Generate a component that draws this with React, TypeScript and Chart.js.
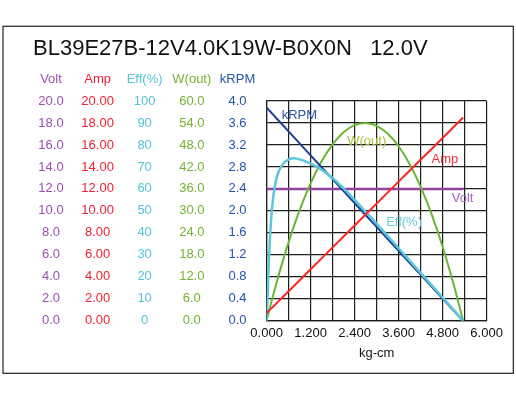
import React, { useEffect, useRef } from "react";
import { Chart, registerables } from "chart.js";

Chart.register(...registerables);

// ---- data ----
const chartTitle = "BL39E27B-12V4.0K19W-B0X0N   12.0V";
const xAxisTitle = "kg-cm";

const torque = [0, 0.04, 0.08, 0.13, 0.19, 0.28, 0.42, 0.6, 0.75, 0.95, 1.2, 1.5, 1.8, 2.1, 2.4, 2.7, 3.0, 3.3, 3.6, 3.9, 4.2, 4.5, 4.8, 5.1, 5.36];
const volt = [12, 12, 12, 12, 12, 12, 12, 12, 12, 12, 12, 12, 12, 12, 12, 12, 12, 12, 12, 12, 12, 12, 12, 12, 12];
const amp = [0.7, 0.83, 0.97, 1.13, 1.33, 1.63, 2.09, 2.69, 3.19, 3.85, 4.69, 5.68, 6.68, 7.67, 8.67, 9.67, 10.66, 11.66, 12.66, 13.65, 14.65, 15.64, 16.64, 17.64, 18.5];
const eff = [0, 17, 34, 47.5, 57.5, 65.5, 70.8, 73.4, 73.9, 73.2, 71.5, 68.8, 65.0, 60.2, 55.0, 49.6, 44.2, 38.6, 33.0, 27.4, 21.8, 16.2, 10.6, 5.0, 0];
const wOut = [0, 1.6, 3.18, 5.11, 7.39, 10.69, 15.6, 21.47, 26.0, 31.5, 37.53, 43.53, 48.18, 51.47, 53.41, 54.0, 53.23, 51.11, 47.64, 42.81, 36.63, 29.1, 20.21, 9.97, 0];
const kRpm = [3.88, 3.851, 3.822, 3.786, 3.742, 3.677, 3.576, 3.446, 3.337, 3.192, 3.011, 2.794, 2.577, 2.36, 2.143, 1.926, 1.708, 1.491, 1.274, 1.057, 0.84, 0.623, 0.405, 0.188, 0];

// tick labels, bottom to top
const voltTicks = ["0.0", "2.0", "4.0", "6.0", "8.0", "10.0", "12.0", "14.0", "16.0", "18.0", "20.0"];
const ampTicks = ["0.00", "2.00", "4.00", "6.00", "8.00", "10.00", "12.00", "14.00", "16.00", "18.00", "20.00"];
const effTicks = ["0", "10", "20", "30", "40", "50", "60", "70", "80", "90", "100"];
const wTicks = ["0.0", "6.0", "12.0", "18.0", "24.0", "30.0", "36.0", "42.0", "48.0", "54.0", "60.0"];
const rpmTicks = ["0.0", "0.4", "0.8", "1.2", "1.6", "2.0", "2.4", "2.8", "3.2", "3.6", "4.0"];
const xTicks = ["0.000", "1.200", "2.400", "3.600", "4.800", "6.000"];

// series names (column headers)
const seriesNames = ["Volt", "Amp", "Eff(%)", "W(out)", "kRPM"];

// in-plot curve labels, anchored in data units
const curveLabels = [
  { text: "kRPM", x: 0.41, y: 3.73, axis: "yRpm", color: "#2f55a6" },
  { text: "W(out)", x: 2.2, y: 49.0, axis: "yW", color: "#a6c23c" },
  { text: "Amp", x: 4.5, y: 14.7, axis: "yAmp", color: "#f0303f" },
  { text: "Volt", x: 5.05, y: 11.1, axis: "yVolt", color: "#a062b6" },
  { text: "Eff(%)", x: 3.26, y: 44.6, axis: "yEff", color: "#66ccdd" },
];

const FONT = "'Liberation Sans', Arial, sans-serif";
const GRID = "#1e1e1e";

const colors = {
  volt: "#9b4fae",
  amp: "#ee2233",
  eff: "#55c4d8",
  w: "#76b232",
  rpm: "#2453a8",
};

const pts = (ys: number[]) => torque.map((t, i) => ({ x: t, y: ys[i] }));

export default function App() {
  const ref = useRef<HTMLCanvasElement | null>(null);

  useEffect(() => {
    if (!ref.current) return;

    const frame = {
      id: "frame",
      beforeDraw(chart: any) {
        const c = chart.ctx;
        c.save();
        c.strokeStyle = "#222";
        c.lineWidth = 1.2;
        c.strokeRect(3, 26.3, 510.3, 347);
        c.restore();
      },
    };

    const headers = {
      id: "headers",
      afterDraw(chart: any) {
        const c = chart.ctx;
        const ids = ["yVolt", "yAmp", "yEff", "yW", "yRpm"];
        const tickSets = [voltTicks, ampTicks, effTicks, wTicks, rpmTicks];
        const cols = [colors.volt, colors.amp, colors.eff, colors.w, colors.rpm];
        c.save();
        c.font = `13px ${FONT}`;
        ids.forEach((id, k) => {
          const s = chart.scales[id];
          const widest = Math.max(...tickSets[k].map((t) => c.measureText(t).width));
          const cx = s.right - s.options.ticks.padding - widest / 2;
          c.fillStyle = cols[k];
          c.textAlign = "center";
          c.textBaseline = "alphabetic";
          c.fillText(seriesNames[k], cx, chart.chartArea.top - 18);
        });
        c.restore();
      },
      afterDatasetsDraw(chart: any) {
        const c = chart.ctx;
        c.save();
        c.font = `13px ${FONT}`;
        c.textAlign = "left";
        c.textBaseline = "middle";
        curveLabels.forEach((l) => {
          c.fillStyle = l.color;
          c.fillText(l.text, chart.scales.x.getPixelForValue(l.x), chart.scales[l.axis].getPixelForValue(l.y));
        });
        c.restore();
      },
    };

    const yAxis = (
      max: number,
      labels: string[],
      color: string,
      weight: number,
      pad: number,
      width: number,
      showGrid: boolean
    ) => ({
      type: "linear",
      position: "left",
      min: 0,
      max,
      weight,
      ticks: {
        count: 11,
        color,
        padding: pad,
        crossAlign: "center",
        font: { family: FONT, size: 13 },
        callback: (_v: any, i: number) => labels[i],
      },
      grid: { display: showGrid, drawTicks: false, color: GRID, lineWidth: 1.2 },
      border: { display: showGrid, color: GRID, width: 1.2 },
      afterFit: (s: any) => {
        s.width = width;
      },
    });

    const chart = new Chart(ref.current, {
      type: "line",
      data: {
        datasets: [
          { label: "Amp", data: pts(amp), borderColor: "#ff2424", borderWidth: 2, yAxisID: "yAmp" },
          { label: "Eff(%)", data: pts(eff), borderColor: "#5cc6da", borderWidth: 2.5, yAxisID: "yEff", cubicInterpolationMode: "monotone" },
          { label: "kRPM", data: pts(kRpm), borderColor: "#1d3f95", borderWidth: 2, yAxisID: "yRpm" },
          { label: "W(out)", data: pts(wOut), borderColor: "#6ab536", borderWidth: 2, yAxisID: "yW", cubicInterpolationMode: "monotone" },
          { label: "Volt", data: pts(volt), borderColor: "#93429f", borderWidth: 2.5, yAxisID: "yVolt" },
        ] as any,
      },
      options: {
        responsive: false,
        animation: false,
        devicePixelRatio: 1,
        elements: { point: { radius: 0 }, line: { fill: false } },
        layout: { padding: { left: 33, right: 29.4, top: 0, bottom: 38.2 } },
        plugins: {
          legend: { display: false },
          tooltip: { enabled: false },
          title: {
            display: true,
            text: chartTitle,
            align: "start",
            color: "#111",
            font: { family: FONT, size: 22, weight: "normal", lineHeight: 1.2 },
            padding: { top: 35.3, bottom: 39.3 },
          },
        },
        scales: {
          x: {
            type: "linear",
            min: 0,
            max: 6,
            ticks: {
              count: 11,
              autoSkip: false,
              maxRotation: 0,
              color: "#111",
              padding: 5,
              font: { family: FONT, size: 13 },
              callback: (_v: any, i: number) => (i % 2 === 0 ? xTicks[i / 2] : ""),
            },
            grid: { drawTicks: false, color: GRID, lineWidth: 1.2 },
            border: { color: GRID, width: 1.2 },
            title: {
              display: true,
              text: xAxisTitle,
              color: "#111",
              font: { family: FONT, size: 13 },
              padding: { top: 4, bottom: 0 },
            },
            afterFit: (s: any) => {
              s.height = 40;
            },
          },
          yVolt: yAxis(20, voltTicks, colors.volt, 5, 16.95, 47.6, false),
          yAmp: yAxis(20, ampTicks, colors.amp, 4, 13.2, 46.5, false),
          yEff: yAxis(100, effTicks, colors.eff, 3, 18.15, 46.5, false),
          yW: yAxis(60, wTicks, colors.w, 2, 15.65, 46.5, false),
          yRpm: yAxis(4, rpmTicks, colors.rpm, 1, 20, 46.5, true),
        } as any,
      },
      plugins: [frame, headers],
    } as any);

    return () => chart.destroy();
  }, []);

  return (
    <div style={{ position: "absolute", left: 0, top: 0, width: 516, height: 399, background: "#fff" }}>
      <canvas ref={ref} width={516} height={399} style={{ display: "block" }} />
    </div>
  );
}
